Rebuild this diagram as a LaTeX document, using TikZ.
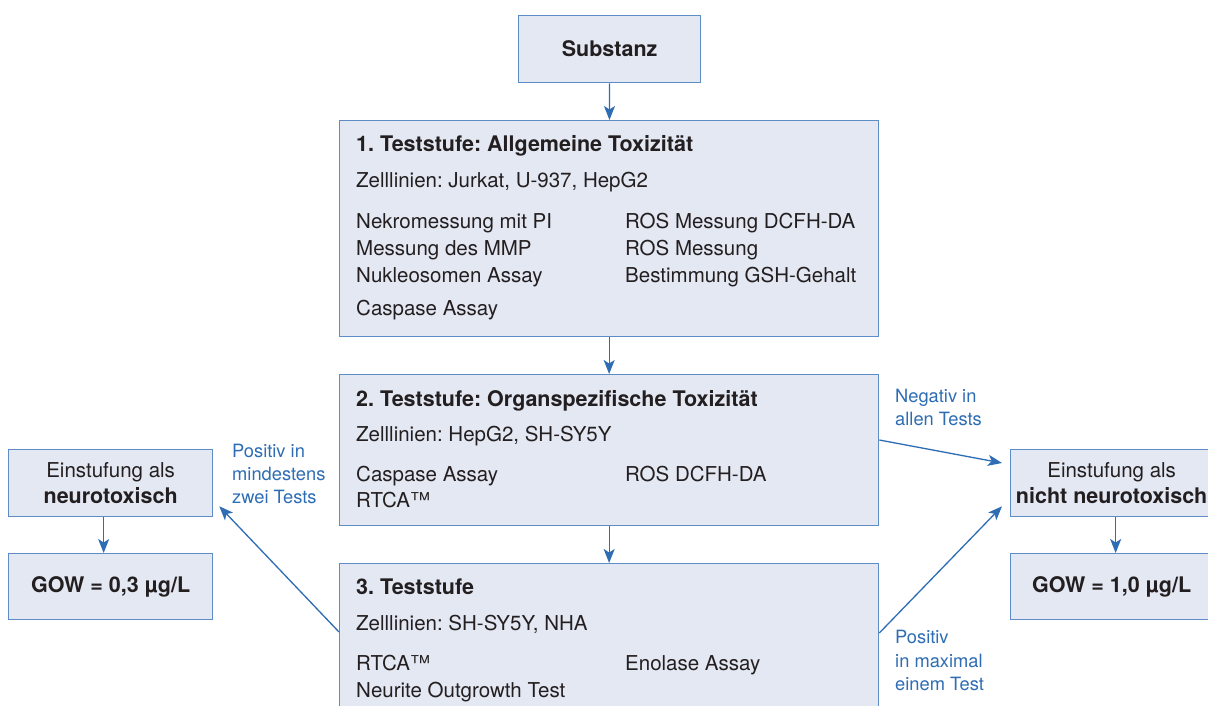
\documentclass[tikz,border=0pt]{standalone}
\usepackage{fontspec}
\setmainfont{TeX Gyre Heros}
\usetikzlibrary{arrows.meta}
\frenchspacing
\definecolor{boxfill}{HTML}{E4E8F3}
\definecolor{boxline}{HTML}{5E8CC6}
\definecolor{arr}{HTML}{2E6DB4}
\definecolor{ink}{HTML}{231F20}
\newcommand{\bt}[1]{{\fontsize{21.5}{26}\selectfont\bfseries #1}}
\tikzset{
	box/.style={draw=boxline,fill=boxfill,line width=1.3pt,anchor=north west,inner sep=0pt,text=ink,align=center,font=\fontsize{20.5}{26}\selectfont},
	txt/.style={anchor=base west,inner sep=0pt,text=ink,font=\fontsize{20.5}{24}\selectfont},
	hd/.style={txt,font=\fontsize{21.5}{24}\selectfont\bfseries},
	lab/.style={anchor=base west,inner sep=0pt,text=arr,font=\fontsize{18.3}{22}\selectfont},
	arw/.style={draw=arr,line width=1.3pt,-{Stealth[length=14pt,width=11pt,inset=3.5pt]}}
}
\begin{document}
\begin{tikzpicture}[x=1pt,y=-1pt]
	\useasboundingbox (0,0) rectangle (1208,706);
	\clip (0,0) rectangle (1208,706);
	\fill[white] (0,0) rectangle (1208,706);

	\node[box,minimum width=182pt,minimum height=67pt] (sub) at (518,15) {\bt{Substanz}};
	\node[box,minimum width=539pt,minimum height=216pt] (st1) at (339,120) {};
	\node[box,minimum width=539pt,minimum height=151pt] (st2) at (339,374) {};
	\node[box,minimum width=539pt,minimum height=177pt] (st3) at (339,563) {};

	\node[box,minimum width=204pt,minimum height=67pt] (neuro) at (8,449) {Einstufung als\\\bt{neurotoxisch}};
	\node[box,minimum width=204pt,minimum height=66pt] (gowa) at (8,553) {\bt{GOW = 0,3 µg/L}};
	\node[box,minimum width=202pt,minimum height=67pt] (nneuro) at (1010,449) {Einstufung als\\\bt{nicht neurotoxisch}};
	\node[box,minimum width=202pt,minimum height=66pt] (gowb) at (1010,553) {\bt{GOW = 1,0 µg/L}};

	% Teststufe 1
	\node[hd] (t1) at (356,152) {1. Teststufe: Allgemeine Toxizität};
	\node[txt] (z1) at (356,187) {Zelllinien: Jurkat, U-937, HepG2};
	\node[txt] (a1) at (356,228) {Nekromessung mit PI};
	\node[txt] (a2) at (356,255) {Messung des MMP};
	\node[txt] (a3) at (356,282) {Nukleosomen Assay};
	\node[txt] (a4) at (356,315) {Caspase Assay};
	\node[txt] (b1) at (625,228) {ROS Messung DCFH-DA};
	\node[txt] (b2) at (625,255) {ROS Messung};
	\node[txt] (b3) at (625,282) {Bestimmung GSH-Gehalt};

	% Teststufe 2
	\node[hd] (t2) at (356,406) {2. Teststufe: Organspezifische Toxizität};
	\node[txt] (z2) at (356,441) {Zelllinien: HepG2, SH-SY5Y};
	\node[txt] (c1) at (356,481) {Caspase Assay};
	\node[txt] (c2) at (356,507) {RTCA™};
	\node[txt] (d1) at (625,481) {ROS DCFH-DA};

	% Teststufe 3
	\node[hd] (t3) at (356,594) {3. Teststufe};
	\node[txt] (z3) at (356,630) {Zelllinien: SH-SY5Y, NHA};
	\node[txt] (e1) at (356,670) {RTCA™};
	\node[txt] (e2) at (356,697) {Neurite Outgrowth Test};
	\node[txt] (f1) at (625,670) {Enolase Assay};

	\node[lab] (pos2) at (232,457) {Positiv in};
	\node[lab] (pos2b) at (232,480) {mindestens};
	\node[lab] (pos2c) at (232,503) {zwei Tests};
	\node[lab] (neg) at (895,402) {Negativ in};
	\node[lab] (negb) at (895,425) {allen Tests};
	\node[lab] (pos1) at (895,643) {Positiv};
	\node[lab] (pos1b) at (895,667) {in maximal};
	\node[lab] (pos1c) at (895,690) {einem Test};

	\draw[arw] (sub) -- (st1);
	\draw[arw] (st1) -- (st2);
	\draw[arw] (st2) -- (st3);
	\draw[arw] ([xshift=-7pt]neuro.south) -- ([xshift=-7pt]gowa.north);
	\draw[arw] ([xshift=4pt]nneuro.south) -- ([xshift=4pt]gowb.north);

	\coordinate (s3l) at ([yshift=-69pt]st3.north west);
	\coordinate (s2r) at ([yshift=-66pt]st2.north east);
	\coordinate (s3r) at ([yshift=-70pt]st3.north east);
	\draw[arw] (s3l) -- ([xshift=6pt,yshift=11pt]neuro.south east);
	\draw[arw] (s2r) -- ([xshift=-8pt,yshift=-14pt]nneuro.north west);
	\draw[arw] (s3r) -- ([xshift=-8pt,yshift=11pt]nneuro.south west);
\end{tikzpicture}
\end{document}
